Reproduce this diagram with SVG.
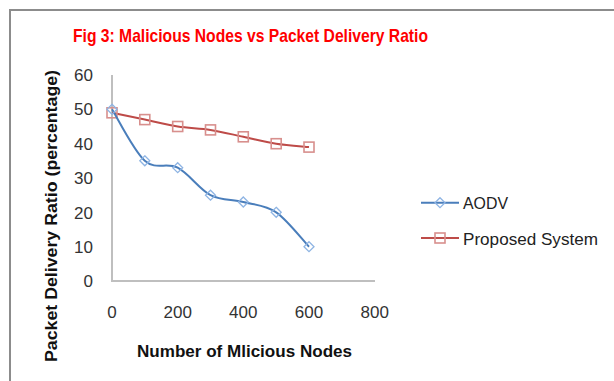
<svg xmlns="http://www.w3.org/2000/svg" width="614" height="381" viewBox="0 0 614 381">
<style>
.tick{font-family:"Liberation Sans",Arial,sans-serif;font-size:17px;fill:#333}
.axt{font-family:"Liberation Sans",Arial,sans-serif;font-size:16px;font-weight:bold;fill:#111}
.leg{font-family:"Liberation Sans",Arial,sans-serif;font-size:17px;fill:#222}
.aodv{fill:none;stroke:#4A7EBB;stroke-width:2}
.prop{fill:none;stroke:#BE4B48;stroke-width:2}
.dm{fill:none;stroke:#8EB4E3;stroke-width:1.3}
.sq{fill:none;stroke:#D88F8D;stroke-width:1.6}
.ax{stroke:#BFBFBF;stroke-width:2;fill:none}
</style>
<defs>
<path id="dia" d="M0,-5 L5,0 L0,5 L-5,0 Z" class="dm"/>
<rect id="sqr" x="-5" y="-5" width="10" height="10" class="sq"/>
</defs>
<rect width="614" height="381" fill="#fff"/>
<path d="M10,381 V10 H614" stroke="#8C8C8C" stroke-width="2" fill="none"/>
<g id="title"><text x="250.5" y="42" text-anchor="middle" font-family="'Liberation Sans',Arial,sans-serif" font-size="19" font-weight="bold" fill="#FF0000" textLength="355" lengthAdjust="spacingAndGlyphs">Fig 3: Malicious Nodes vs Packet Delivery Ratio</text></g>
<g id="axes">
<path class="ax" d="M112,75 V281 H375"/>
</g>
<g id="y-ticks" class="tick" text-anchor="end">
<text x="93" y="81">60</text>
<text x="93" y="115">50</text>
<text x="93" y="150">40</text>
<text x="93" y="184">30</text>
<text x="93" y="219">20</text>
<text x="93" y="253">10</text>
<text x="93" y="287">0</text>
</g>
<g id="x-ticks" class="tick" text-anchor="middle">
<text x="112" y="318">0</text>
<text x="177.7" y="318">200</text>
<text x="243.3" y="318">400</text>
<text x="309" y="318">600</text>
<text x="374.7" y="318">800</text>
</g>
<g id="x-title"><text class="axt" x="244.5" y="357" text-anchor="middle" textLength="215" lengthAdjust="spacingAndGlyphs">Number of Mlicious Nodes</text></g>
<g id="y-title"><text class="axt" transform="translate(57,216) rotate(-90)" text-anchor="middle" textLength="292" lengthAdjust="spacingAndGlyphs">Packet Delivery Ratio (percentage)</text></g>
<g id="series-proposed">
<path class="prop" d="M112,112.8 C117.5,113.9 133.85,117.3 144.8,119.6 C155.75,121.9 166.75,124.8 177.7,126.5 C188.65,128.2 199.6,128.2 210.5,129.9 C221.4,131.6 232.35,134.5 243.3,136.8 C254.25,139.1 265.25,142 276.2,143.7 C287.15,145.4 303.5,146.5 309,147.1"/>
<use href="#sqr" x="112" y="112.8"/>
<use href="#sqr" x="144.8" y="119.6"/>
<use href="#sqr" x="177.7" y="126.5"/>
<use href="#sqr" x="210.5" y="129.9"/>
<use href="#sqr" x="243.3" y="136.8"/>
<use href="#sqr" x="276.2" y="143.7"/>
<use href="#sqr" x="309" y="147.1"/>
</g>
<g id="series-aodv">
<path class="aodv" d="M112,109.3 C117.5,117.9 133.85,151.1 144.8,160.8 C155.75,170.5 166.75,162 177.7,167.7 C188.65,173.4 199.6,189.5 210.5,195.2 C221.4,200.9 232.35,199.15 243.3,202 C254.25,204.85 265.25,204.85 276.2,212.3 C287.15,219.75 303.5,241 309,246.7"/>
<use href="#dia" x="112" y="109.3"/>
<use href="#dia" x="144.8" y="160.8"/>
<use href="#dia" x="177.7" y="167.7"/>
<use href="#dia" x="210.5" y="195.2"/>
<use href="#dia" x="243.3" y="202"/>
<use href="#dia" x="276.2" y="212.3"/>
<use href="#dia" x="309" y="246.7"/>
</g>
<g id="legend">
<line x1="421" y1="202.7" x2="459" y2="202.7" class="aodv"/>
<use href="#dia" x="440" y="202.7"/>
<text class="leg" x="463" y="209" textLength="45" lengthAdjust="spacingAndGlyphs">AODV</text>
<line x1="421" y1="238" x2="459" y2="238" class="prop"/>
<use href="#sqr" x="440" y="238"/>
<text class="leg" x="463" y="244.5" textLength="135" lengthAdjust="spacingAndGlyphs">Proposed System</text>
</g>
</svg>
